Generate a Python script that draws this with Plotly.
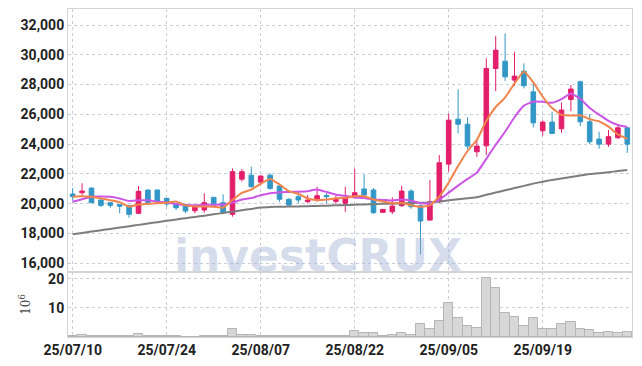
import plotly.graph_objects as go
from plotly.subplots import make_subplots
import pandas as pd

dates = [
    "2025-07-10", "2025-07-11", "2025-07-14", "2025-07-15", "2025-07-16", "2025-07-17", "2025-07-18",
    "2025-07-21", "2025-07-22", "2025-07-23", "2025-07-24", "2025-07-25", "2025-07-28", "2025-07-29",
    "2025-07-30", "2025-07-31", "2025-08-01", "2025-08-04", "2025-08-05", "2025-08-06", "2025-08-07",
    "2025-08-08", "2025-08-11", "2025-08-12", "2025-08-13", "2025-08-14", "2025-08-18", "2025-08-19",
    "2025-08-20", "2025-08-21", "2025-08-22", "2025-08-25", "2025-08-26", "2025-08-27", "2025-08-28",
    "2025-08-29", "2025-09-01", "2025-09-02", "2025-09-03", "2025-09-04", "2025-09-05", "2025-09-08",
    "2025-09-09", "2025-09-10", "2025-09-11", "2025-09-12", "2025-09-15", "2025-09-16", "2025-09-17",
    "2025-09-18", "2025-09-19", "2025-09-22", "2025-09-23", "2025-09-24", "2025-09-25", "2025-09-26",
    "2025-09-29", "2025-09-30", "2025-10-01", "2025-10-02",
]

open_ = [20650, 20740, 21050, 20250, 20070, 19940, 19890, 19355, 20920, 20920,
         20360, 19980, 19960, 19530, 19580, 20430, 20070, 19290, 21650, 21920,
         21450, 21920, 21190, 20300, 20470, 20140, 20250, 20560, 20160, 20030,
         20470, 20990, 20920, 19420, 19460, 19870, 20850, 19870, 18900, 20130,
         22660, 25680, 25340, 23490, 23890, 29080, 29570, 28300, 28900, 27510,
         24900, 25480, 25030, 27000, 28190, 25500, 24340, 24000, 24430, 25100]
high = [21050, 21370, 21080, 20310, 20100, 19960, 19900, 21190, 20950, 20950,
        20380, 20000, 19980, 19850, 20700, 20450, 20630, 22370, 22330, 22480,
        21900, 22040, 21320, 20370, 20770, 20580, 21140, 20700, 20540, 21140,
        22370, 21970, 21050, 19640, 20430, 21210, 20990, 19960, 21590, 23270,
        26060, 27680, 25800, 24270, 29760, 31250, 31430, 30200, 29420, 28080,
        25600, 26170, 26800, 27970, 28260, 26020, 24830, 24950, 25350, 25100]
low = [20200, 20580, 20050, 19780, 19730, 19360, 19060, 19310, 20070, 20100,
       19800, 19580, 19360, 19360, 19400, 19800, 19360, 19130, 21480, 21100,
       21250, 20950, 20130, 19800, 20030, 20030, 20140, 20030, 20000, 19460,
       20360, 20430, 19310, 19400, 19310, 19780, 19660, 16600, 18900, 20030,
       22150, 24720, 23660, 23150, 23270, 27560, 28250, 27900, 27740, 25130,
       24560, 24700, 24760, 26220, 25210, 24000, 23690, 23820, 24330, 23420]
close = [20480, 20850, 20070, 19890, 19890, 19830, 19290, 20830, 20090, 20130,
         19980, 19730, 19510, 19760, 20070, 19910, 19400, 22150, 22150, 21140,
         21860, 21030, 20300, 19910, 20250, 20250, 20540, 20470, 20290, 20430,
         20740, 20580, 19400, 19620, 19840, 20850, 19800, 18840, 20130, 22750,
         25610, 25340, 23870, 23870, 29080, 30310, 28520, 28570, 27920, 25430,
         25480, 24720, 26290, 27700, 25500, 24160, 24000, 24500, 25100, 24000]

# volume in millions of shares
volume = [0.4, 0.6, 0.3, 0.3, 0.3, 0.2, 0.3, 1.0, 0.4, 0.3,
          0.2, 0.2, 0.1, 0.1, 0.3, 0.2, 0.4, 2.8, 0.8, 0.7,
          0.3, 0.2, 0.2, 0.2, 0.3, 0.3, 0.2, 0.3, 0.4, 0.3,
          2.2, 1.5, 1.4, 0.3, 0.7, 1.5, 0.8, 4.6, 2.9, 5.5,
          11.6, 6.5, 3.8, 3.1, 20.1, 16.7, 8.2, 6.8, 3.8, 6.5,
          2.8, 2.8, 4.6, 5.2, 2.8, 2.4, 1.5, 1.8, 1.5, 1.8]

# moving-average values read from the chart where earlier closes are not shown
ma5_head = [20470, 20500, 20470, 20360]
ma10_head = [20130, 20300, 20470, 20480, 20470, 20350, 20180, 20230, 20230]
ma_long = [17950, 18040, 18130, 18220, 18310, 18400, 18490, 18580, 18670, 18760,
           18850, 18940, 19030, 19110, 19200, 19290, 19380, 19470, 19560, 19650,
           19740, 19780, 19800, 19810, 19820, 19830, 19850, 19870, 19890, 19910,
           19930, 19950, 19970, 19990, 20000, 20020, 20040, 20060, 20090, 20150,
           20230, 20300, 20370, 20430, 20600, 20750, 20900, 21050, 21200, 21350,
           21480, 21600, 21700, 21800, 21900, 21990, 22050, 22120, 22190, 22260]

tick_dates = ["2025-07-10", "2025-07-24", "2025-08-07", "2025-08-22", "2025-09-05", "2025-09-19"]
tick_text = ["25/07/10", "25/07/24", "25/08/07", "25/08/22", "25/09/05", "25/09/19"]
price_ticks = [16000, 18000, 20000, 22000, 24000, 26000, 28000, 30000, 32000]
vol_ticks = [10, 20]

cs = pd.Series(close, dtype=float)
ma5 = cs.rolling(5).mean().tolist()
ma10 = cs.rolling(10).mean().tolist()
ma5[:len(ma5_head)] = ma5_head
ma10[:len(ma10_head)] = ma10_head

UP = "#e31e6b"
DOWN = "#3297c6"
GRID = "#c9cedd"
FONT = "Liberation Sans Narrow, Roboto, sans-serif"

fig = make_subplots(rows=2, cols=1, shared_xaxes=True, vertical_spacing=0,
                    row_heights=[263, 65])

fig.add_trace(go.Candlestick(
    x=dates, open=open_, high=high, low=low, close=close,
    increasing=dict(line=dict(color=UP, width=1), fillcolor=UP),
    decreasing=dict(line=dict(color=DOWN, width=1), fillcolor=DOWN),
    showlegend=False, hoverinfo="skip"), row=1, col=1)

fig.add_trace(go.Scatter(x=dates, y=ma_long, mode="lines",
                         line=dict(color="#7d7d7d", width=2, shape="spline", smoothing=0.4),
                         showlegend=False, hoverinfo="skip"), row=1, col=1)
fig.add_trace(go.Scatter(x=dates, y=ma10, mode="lines",
                         line=dict(color="#cc55e6", width=2, shape="spline", smoothing=0.4),
                         showlegend=False, hoverinfo="skip"), row=1, col=1)
fig.add_trace(go.Scatter(x=dates, y=ma5, mode="lines",
                         line=dict(color="#f0844a", width=2, shape="spline", smoothing=0.4),
                         showlegend=False, hoverinfo="skip"), row=1, col=1)

fig.add_trace(go.Bar(x=dates, y=volume,
                     marker=dict(color="#d7d7d7", line=dict(color="#b5b5b5", width=1)),
                     showlegend=False, hoverinfo="skip"), row=2, col=1)

axis_common = dict(showline=True, linecolor="#d4d4d4", linewidth=1, mirror=True,
                   showgrid=True, gridcolor=GRID, griddash="dot", gridwidth=1,
                   zeroline=False, ticks="", automargin=False,
                   tickfont=dict(family=FONT, size=14, color="#222222", weight="bold"))

fig.update_xaxes(type="category", categoryorder="array", categoryarray=dates,
                 tickmode="array", tickvals=tick_dates, ticktext=tick_text,
                 range=[-0.5, len(dates) - 0.5], rangeslider=dict(visible=False),
                 **axis_common)
fig.update_xaxes(showticklabels=False, row=1, col=1)

fig.update_yaxes(range=[15416, 33074], tickmode="array", tickvals=price_ticks,
                 tickformat=",d", row=1, col=1, **axis_common)
fig.update_yaxes(range=[0, 22.3], tickmode="array", tickvals=vol_ticks,
                 title=dict(text="10<sup>6</sup>", font=dict(family="DejaVu Serif", size=12, color="#444444"),
                            standoff=14),
                 row=2, col=1, **axis_common)

fig.add_annotation(text="<b>investCRUX</b>", xref="paper", yref="paper",
                   x=0.443, y=0.247, xanchor="center", yanchor="middle", showarrow=False,
                   font=dict(family="DejaVu Sans", size=44, color="rgba(160,176,212,0.45)"))

# page body adds an 8px offset, so the figure is sized to fit the window
fig.update_layout(width=634, height=358, margin=dict(l=60, r=10, t=1, b=29),
                  paper_bgcolor="white", plot_bgcolor="white", bargap=0,
                  hovermode=False)

fig.write_html("out.html")
